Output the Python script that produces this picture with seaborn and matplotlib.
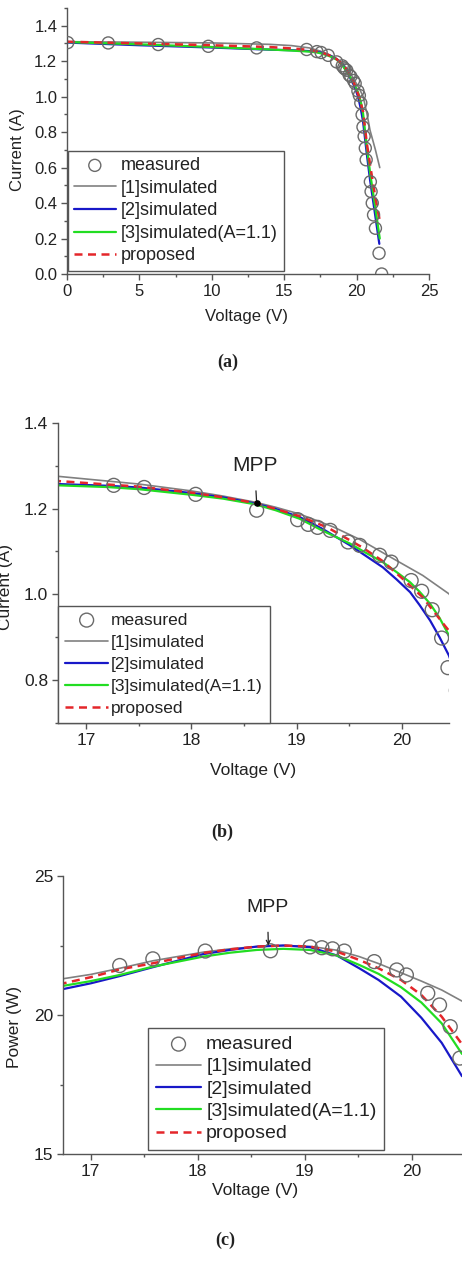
import matplotlib
matplotlib.use("Agg")
import matplotlib.pyplot as plt
import seaborn as sns
from matplotlib.ticker import MultipleLocator

# measured I-V points (used in panels a and b)
iv_v_meas = [0.05, 2.85, 6.3, 9.76, 13.1, 16.55, 17.26, 17.55, 18.04, 18.62, 19.01, 19.11,
             19.2, 19.32, 19.49, 19.6, 19.79, 19.9, 20.09, 20.19, 20.29, 20.38, 20.44, 20.52,
             20.6, 20.66, 20.95, 21.0, 21.08, 21.17, 21.3, 21.55, 21.73]
iv_i_meas = [1.305, 1.303, 1.294, 1.284, 1.275, 1.266, 1.254, 1.249, 1.233, 1.196, 1.174, 1.163,
             1.156, 1.149, 1.122, 1.114, 1.091, 1.075, 1.032, 1.007, 0.964, 0.898, 0.829, 0.776,
             0.71, 0.644, 0.52, 0.465, 0.40, 0.333, 0.258, 0.117, 0.0]

# simulated I-V curves
v_sim1 = [0, 5, 10, 14, 15.5, 16.73, 17.2, 17.5, 18.0, 18.3, 18.6, 18.8, 19.03, 19.35, 19.6,
          19.92, 20.2, 20.45, 20.7, 20.93, 21.3, 21.6]
i_sim1 = [1.31, 1.307, 1.303, 1.295, 1.288, 1.275, 1.264, 1.257, 1.241, 1.229, 1.215, 1.203,
          1.187, 1.157, 1.128, 1.083, 1.044, 1.001, 0.91, 0.81, 0.70, 0.60]

v_sim2 = [0, 5, 10, 14, 15.5, 16.73, 17.2, 17.5, 18.0, 18.3, 18.6, 18.8, 19.03, 19.25, 19.51,
          19.65, 19.82, 19.95, 20.08, 20.17, 20.27, 20.36, 20.45, 20.7, 20.93, 21.27, 21.57]
i_sim2 = [1.305, 1.29, 1.277, 1.265, 1.262, 1.257, 1.253, 1.249, 1.236, 1.226, 1.212, 1.199,
          1.180, 1.152, 1.114, 1.091, 1.063, 1.035, 1.005, 0.975, 0.939, 0.90, 0.857, 0.68,
          0.53, 0.34, 0.17]

v_sim3 = [0, 5, 10, 14, 15.5, 16.73, 17.2, 17.5, 18.0, 18.3, 18.6, 18.8, 19.03, 19.25, 19.51,
          19.65, 19.82, 19.95, 20.08, 20.17, 20.27, 20.36, 20.45, 20.7, 20.95, 21.3, 21.6]
i_sim3 = [1.308, 1.295, 1.28, 1.266, 1.26, 1.254, 1.25, 1.245, 1.232, 1.223, 1.21, 1.196,
          1.176, 1.148, 1.118, 1.098, 1.075, 1.052, 1.028, 1.006, 0.978, 0.945, 0.904, 0.72,
          0.56, 0.37, 0.20]

v_prop = [0, 5, 10, 14, 15.5, 16.73, 17.2, 17.5, 18.0, 18.3, 18.6, 18.8, 19.03, 19.3, 19.62,
          19.81, 20.01, 20.2, 20.41, 20.45, 20.7, 21.0, 21.3, 21.6]
i_prop = [1.31, 1.3, 1.29, 1.28, 1.272, 1.264, 1.256, 1.251, 1.237, 1.226, 1.213, 1.199,
          1.182, 1.155, 1.110, 1.079, 1.036, 0.993, 0.927, 0.915, 0.74, 0.58, 0.43, 0.30]

# P-V panel
pv_v_meas = [17.27, 17.58, 18.07, 18.68, 19.05, 19.16, 19.26, 19.37, 19.65, 19.86, 19.95,
             20.15, 20.26, 20.36, 20.45]
pv_p_meas = [21.78, 22.02, 22.30, 22.31, 22.45, 22.42, 22.38, 22.30, 21.92, 21.62, 21.44,
             20.78, 20.36, 19.58, 18.45]

pv_v = [16.7, 17.0, 17.27, 17.58, 18.05, 18.3, 18.55, 18.8, 19.05, 19.3, 19.51, 19.69, 19.9,
        20.09, 20.28, 20.47]
p_sim1 = [21.28, 21.46, 21.68, 21.95, 22.26, 22.38, 22.46, 22.5, 22.47, 22.33, 22.1, 21.85,
          21.52, 21.22, 20.9, 20.5]
p_sim2 = [20.90, 21.14, 21.40, 21.72, 22.19, 22.34, 22.46, 22.5, 22.44, 22.14, 21.68, 21.26,
          20.66, 19.9, 19.0, 17.8]
p_sim3 = [21.02, 21.22, 21.44, 21.74, 22.10, 22.24, 22.34, 22.38, 22.34, 22.14, 21.8, 21.48,
          21.0, 20.45, 19.7, 18.6]
p_prop = [21.10, 21.36, 21.64, 21.86, 22.23, 22.36, 22.46, 22.5, 22.46, 22.28, 21.98, 21.68,
          21.26, 20.72, 19.94, 18.95]

mpp_iv = (18.62, 1.213)
mpp_pv = (18.66, 22.5)

labels = ["measured", "[1]simulated", "[2]simulated", "[3]simulated(A=1.1)", "proposed"]
colors = ["#808080", "#1818c8", "#22dd22", "#e4262a"]
txt = "#222222"

sns.set_theme(style="ticks")
plt.rcParams["font.family"] = ["Liberation Sans", "DejaVu Sans"]

fig = plt.figure(figsize=(4.62, 12.7), dpi=100)
W, H = 462.0, 1270.0


def axes_px(left, top, right, bottom):
    return fig.add_axes([left / W, 1 - bottom / H, (right - left) / W, (bottom - top) / H])


def draw(ax, vm, ym, curves, msize):
    sns.scatterplot(x=vm, y=ym, ax=ax, marker="o", s=msize, facecolor="none",
                    edgecolor="#6a6a6a", linewidth=1.0, label=labels[0], zorder=3)
    lws = [1.2, 1.6, 1.6, 1.8]
    for k, (xv, yv) in enumerate(curves):
        kw = dict(dashes=(3.2, 2.2)) if k == 3 else {}
        sns.lineplot(x=xv, y=yv, ax=ax, color=colors[k], lw=lws[k], label=labels[k + 1],
                     errorbar=None, sort=False, zorder=2, **kw)


def style(ax, xlim, ylim, xmaj, xmin, ymaj, ymin, fs):
    ax.set_xlim(xlim)
    ax.set_ylim(ylim)
    ax.xaxis.set_major_locator(MultipleLocator(xmaj))
    ax.xaxis.set_minor_locator(MultipleLocator(xmin))
    ax.yaxis.set_major_locator(MultipleLocator(ymaj))
    ax.yaxis.set_minor_locator(MultipleLocator(ymin))
    sns.despine(ax=ax)
    for s in ["left", "bottom"]:
        ax.spines[s].set_color("#555555")
        ax.spines[s].set_linewidth(1.0)
    ax.tick_params(which="major", direction="out", length=4, width=1, color="#555555",
                   labelcolor=txt, labelsize=fs, pad=3)
    ax.tick_params(which="minor", direction="out", length=2.5, width=1, color="#555555")


def legend(ax, anchor, fs, hl, htp, bp, ls):
    h, l = ax.get_legend_handles_labels()
    leg = ax.legend(h, l, loc="lower left", bbox_to_anchor=anchor, borderaxespad=0,
                    frameon=True, fancybox=False, framealpha=1, edgecolor="#555555",
                    fontsize=fs, handlelength=hl, handletextpad=htp, labelspacing=ls,
                    borderpad=bp)
    leg.get_frame().set_linewidth(1.0)
    for t in leg.get_texts():
        t.set_color(txt)


# (a) full I-V curve
ax_a = axes_px(67, 8, 429, 274)
draw(ax_a, iv_v_meas, iv_i_meas,
     [(v_sim1, i_sim1), (v_sim2, i_sim2), (v_sim3, i_sim3), (v_prop, i_prop)], 75)
style(ax_a, (0, 25), (0, 1.5), 5, 2.5, 0.2, 0.1, 12)
ax_a.set_xlabel("Voltage (V)", fontsize=12, color=txt)
ax_a.set_ylabel("Current (A)", fontsize=12, color=txt)
ax_a.xaxis.set_label_coords(0.496, -0.132)
ax_a.yaxis.set_label_coords(-0.116, 0.466)
legend(ax_a, (0.002, 0.012), 13, 2.3, 0.3, 0.35, 0.31)

# (b) zoom near MPP
ax_b = axes_px(58, 422.7, 449, 723)
draw(ax_b, iv_v_meas, iv_i_meas,
     [(v_sim1, i_sim1), (v_sim2, i_sim2), (v_sim3, i_sim3), (v_prop, i_prop)], 100)
style(ax_b, (16.73, 20.45), (0.7, 1.4), 1, 0.5, 0.2, 0.1, 12.5)
ax_b.set_xlabel("Voltage (V)", fontsize=12.5, color=txt)
ax_b.set_ylabel("Current (A)", fontsize=12.5, color=txt)
ax_b.xaxis.set_label_coords(0.499, -0.133)
ax_b.yaxis.set_label_coords(-0.115, 0.453)
ax_b.annotate("MPP", xy=mpp_iv, xytext=(mpp_iv[0] - 0.02, 1.30), ha="center", va="center",
              fontsize=15, color=txt,
              arrowprops=dict(arrowstyle="-", color=txt, lw=0.9, shrinkA=9, shrinkB=0))
ax_b.scatter([mpp_iv[0]], [mpp_iv[1]], s=14, color="black", zorder=5)
legend(ax_b, (0.0, 0.0), 12.5, 2.5, 0.15, 0.4, 0.4)

# (c) P-V near MPP
ax_c = axes_px(63, 876, 462, 1154)
draw(ax_c, pv_v_meas, pv_p_meas,
     [(pv_v, p_sim1), (pv_v, p_sim2), (pv_v, p_sim3), (pv_v, p_prop)], 100)
style(ax_c, (16.74, 20.47), (15, 25), 1, 0.5, 5, 2.5, 12.5)
ax_c.set_xlabel("Voltage (V)", fontsize=12.5, color=txt)
ax_c.set_ylabel("Power (W)", fontsize=12.5, color=txt)
ax_c.xaxis.set_label_coords(0.481, -0.104)
ax_c.yaxis.set_label_coords(-0.103, 0.457)
ax_c.annotate("MPP", xy=mpp_pv, xytext=(mpp_pv[0] - 0.01, 23.85), ha="center", va="center",
              fontsize=14, color=txt,
              arrowprops=dict(arrowstyle="->", color=txt, lw=0.9, shrinkA=9, shrinkB=0,
                              mutation_scale=7))
legend(ax_c, (0.214, 0.014), 14, 2.3, 0.27, 0.4, 0.24)

for lab, x, y in [("(a)", 228, 362), ("(b)", 222, 832), ("(c)", 225, 1240)]:
    fig.text(x / W, 1 - y / H, lab, ha="center", va="center", fontsize=13,
             fontweight="bold", family=["Liberation Serif", "DejaVu Serif"], color=txt)

fig.savefig("out.png", dpi=100)
